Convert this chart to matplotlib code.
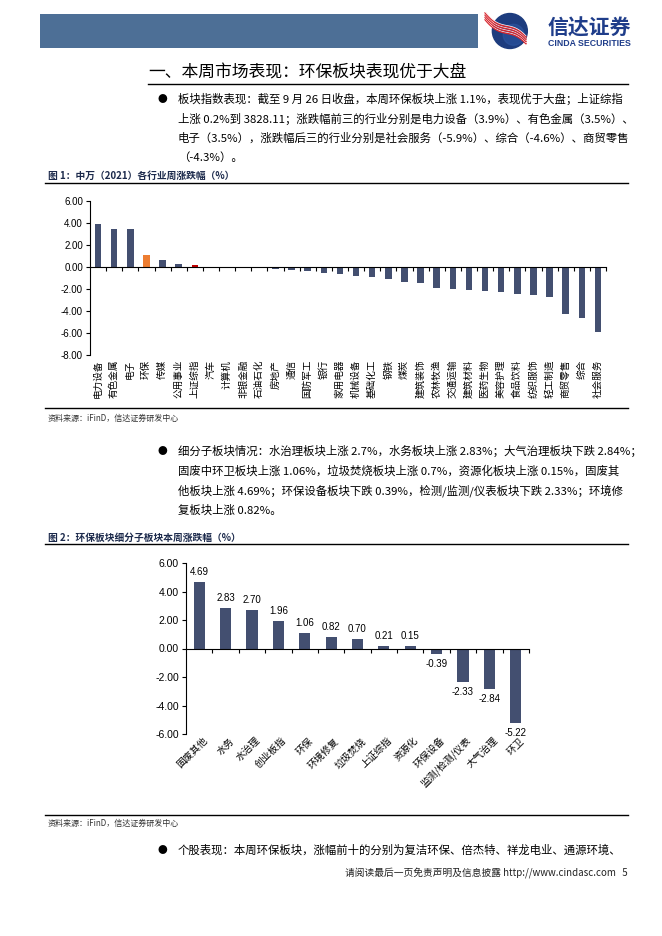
import numpy as np
import matplotlib
matplotlib.use("Agg")
import matplotlib.pyplot as plt
from matplotlib.lines import Line2D
from matplotlib.patches import Rectangle, Circle

plt.rcParams['font.family'] = ['Noto Sans CJK SC', 'DejaVu Sans']

# ---------------- data ----------------
ind_names = ['电力设备', '有色金属', '电子', '环保', '传媒', '公用事业', '上证综指', '汽车', '计算机',
             '非银金融', '石油石化', '房地产', '通信', '国防军工', '银行', '家用电器', '机械设备',
             '基础化工', '钢铁', '煤炭', '建筑装饰', '农林牧渔', '交通运输', '建筑材料', '医药生物',
             '美容护理', '食品饮料', '纺织服饰', '轻工制造', '商贸零售', '综合', '社会服务']
ind_values = [3.9, 3.5, 3.5, 1.1, 0.65, 0.3, 0.2, 0.02, 0.01,
              -0.05, -0.1, -0.15, -0.27, -0.4, -0.5, -0.63, -0.78,
              -0.93, -1.1, -1.35, -1.47, -1.95, -2.0, -2.1, -2.19,
              -2.25, -2.46, -2.57, -2.69, -4.3, -4.6, -5.9]
ind_yticks = [-8, -6, -4, -2, 0, 2, 4, 6]

sub_names = ['固废其他', '水务', '水治理', '创业板指', '环保', '环境修复', '垃圾焚烧', '上证综指',
             '资源化', '环保设备', '监测/检测/仪表', '大气治理', '环卫']
sub_values = [4.69, 2.83, 2.70, 1.96, 1.06, 0.82, 0.70, 0.21, 0.15, -0.39, -2.33, -2.84, -5.22]
sub_yticks = [-6, -4, -2, 0, 2, 4, 6]

BAR = '#434f70'
ORANGE = '#ed7d31'
RED = '#c00000'
CAP = '#1c2a4c'

W, H = 662, 936
fig = plt.figure(figsize=(W / 100, H / 100), dpi=100)
fig.patch.set_facecolor('white')


def T(x, y, s, **kw):
    kw.setdefault('va', 'center')
    kw.setdefault('ha', 'left')
    fig.text(x / W, 1 - y / H, s, **kw)


def HL(x1, x2, y, lw=1.0, color='black'):
    fig.add_artist(Line2D([x1 / W, x2 / W], [1 - y / H, 1 - y / H], transform=fig.transFigure,
                          color=color, lw=lw))


# ---------------- header ----------------
fig.add_artist(Rectangle((40 / W, 1 - 48 / H), 438 / W, 34 / H, transform=fig.transFigure,
                         facecolor='#4d6f96', edgecolor='none'))
lax = fig.add_axes([484 / W, 1 - 50 / H, 46 / W, 38 / H])
lax.set_xlim(-1.2, 1.2)
lax.set_ylim(-1.0, 1.0)
lax.set_aspect('equal')
lax.axis('off')
lax.add_patch(Circle((0.15, 0), 0.92, color='#1d3c7e'))
lax.add_patch(Circle((0.35, -0.2), 0.55, color='#2c55a0', alpha=0.6))
tt = np.linspace(-1.15, 1.0, 60)
for off in [-0.12, 0.0, 0.12, 0.24]:
    lax.plot(tt, -0.75 * tt + 0.25 * np.sin(2.2 * tt) + off, color='#d7262e', lw=1.2,
             solid_capstyle='round')
    lax.plot(tt, -0.75 * tt + 0.25 * np.sin(2.2 * tt) + off + 0.05, color='white', lw=0.5)
T(548, 28, '信达证券', fontsize=15, weight='bold', color='#1f3d8a')
T(548, 43, 'CINDA SECURITIES', fontsize=6.3, weight='bold', color='#1f3d8a',
  family=['Liberation Sans', 'DejaVu Sans'])

# ---------------- title ----------------
T(148, 73, '一、本周市场表现：环保板块表现优于大盘', fontsize=12.1, color='black')
HL(148, 628, 84, lw=1.0)

# ---------------- paragraph 1 ----------------
BODY = 8.2
T(158, 99, '●', fontsize=7)
p1 = ['板块指数表现：截至 9 月 26 日收盘，本周环保板块上涨 1.1%，表现优于大盘；上证综指',
      '上涨 0.2%到 3828.11；涨跌幅前三的行业分别是电力设备（3.9%）、有色金属（3.5%）、',
      '电子（3.5%），涨跌幅后三的行业分别是社会服务（-5.9%）、综合（-4.6%）、商贸零售',
      '（-4.3%）。']
for i, s in enumerate(p1):
    T(178, 99 + i * 19.5, s, fontsize=BODY)

# ---------------- figure 1 ----------------
T(48, 176, '图 1：中万（2021）各行业周涨跌幅（%）', fontsize=7, weight='bold', color=CAP)
HL(45, 628, 183, lw=1.0)

ax1 = fig.add_axes([90 / W, 1 - 355 / H, 516 / W, 154 / H])
n1 = len(ind_names)
x1 = np.arange(n1)
cols1 = [ORANGE if c == '环保' else RED if c == '上证综指' else BAR for c in ind_names]
ax1.bar(x1, ind_values, width=0.4, color=cols1)
ax1.set_xlim(-0.5, n1 - 0.5)
ax1.set_ylim(min(ind_yticks), max(ind_yticks))
ax1.set_yticks(ind_yticks)
ax1.set_yticklabels(['%.2f' % v for v in ind_yticks], family=['Liberation Sans', 'DejaVu Sans'])
ax1.spines['top'].set_visible(False)
ax1.spines['right'].set_visible(False)
ax1.spines['bottom'].set_position(('data', 0))
for sp in ['left', 'bottom']:
    ax1.spines[sp].set_linewidth(0.8)
ax1.set_xticks(np.arange(0.5, n1, 1))
ax1.tick_params(axis='x', direction='out', length=3, width=0.8, labelbottom=False)
ax1.tick_params(axis='y', direction='out', length=3, width=0.8, labelsize=7, pad=2)
for i, lab in enumerate(ind_names):
    ax1.text(i, min(ind_yticks) - 0.45, lab, rotation=90, ha='center', va='top', fontsize=6.9,
             clip_on=False)

HL(45, 628, 408, lw=1.0)
T(48, 418, '资料来源：iFinD，信达证券研发中心', fontsize=5.8, color='#333333', style='italic')

# ---------------- paragraph 2 ----------------
T(158, 451, '●', fontsize=7)
p2 = ['细分子板块情况：水治理板块上涨 2.7%，水务板块上涨 2.83%；大气治理板块下跌 2.84%；',
      '固废中环卫板块上涨 1.06%，垃圾焚烧板块上涨 0.7%，资源化板块上涨 0.15%，固废其',
      '他板块上涨 4.69%；环保设备板块下跌 0.39%，检测/监测/仪表板块下跌 2.33%；环境修',
      '复板块上涨 0.82%。']
for i, s in enumerate(p2):
    T(178, 451 + i * 19.7, s, fontsize=BODY)

# ---------------- figure 2 ----------------
T(48, 538, '图 2：环保板块细分子板块本周涨跌幅（%）', fontsize=7, weight='bold', color=CAP)
HL(45, 628, 544, lw=1.0)

ax2 = fig.add_axes([186 / W, 1 - 734 / H, 343 / W, 171 / H])
n2 = len(sub_names)
x2 = np.arange(n2)
ax2.bar(x2, sub_values, width=0.42, color=BAR)
ax2.set_xlim(-0.5, n2 - 0.5)
ax2.set_ylim(min(sub_yticks), max(sub_yticks))
ax2.set_yticks(sub_yticks)
ax2.set_yticklabels(['%.2f' % v for v in sub_yticks], family=['Liberation Sans', 'DejaVu Sans'])
ax2.spines['top'].set_visible(False)
ax2.spines['right'].set_visible(False)
ax2.spines['bottom'].set_position(('data', 0))
for sp in ['left', 'bottom']:
    ax2.spines[sp].set_linewidth(0.8)
ax2.set_xticks(np.arange(0.5, n2, 1))
ax2.tick_params(axis='x', direction='out', length=3, width=0.8, labelbottom=False)
ax2.tick_params(axis='y', direction='out', length=3, width=0.8, labelsize=7.5, pad=2)
for i, v in enumerate(sub_values):
    if v >= 0:
        ax2.text(i, v + 0.35, '%.2f' % v, ha='center', va='bottom', fontsize=7,
                 family=['Liberation Sans', 'DejaVu Sans'])
    else:
        ax2.text(i, v - 0.35, '%.2f' % v, ha='center', va='top', fontsize=7,
                 family=['Liberation Sans', 'DejaVu Sans'])
for i, lab in enumerate(sub_names):
    ax2.text(i + 0.25, min(sub_yticks) - 0.35, lab, rotation=45, rotation_mode='anchor',
             ha='right', va='center', fontsize=7, clip_on=False)

HL(45, 628, 815, lw=1.0)
T(48, 823, '资料来源：iFinD，信达证券研发中心', fontsize=5.8, color='#333333', style='italic')

# ---------------- paragraph 3 & footer ----------------
T(158, 850, '●', fontsize=7)
T(178, 850, '个股表现：本周环保板块，涨幅前十的分别为复洁环保、倍杰特、祥龙电业、通源环境、',
  fontsize=BODY)
T(628, 873, '请阅读最后一页免责声明及信息披露 http://www.cindasc.com   5', ha='right', fontsize=7,
  color='#222222')

fig.savefig('out.png', dpi=100)
